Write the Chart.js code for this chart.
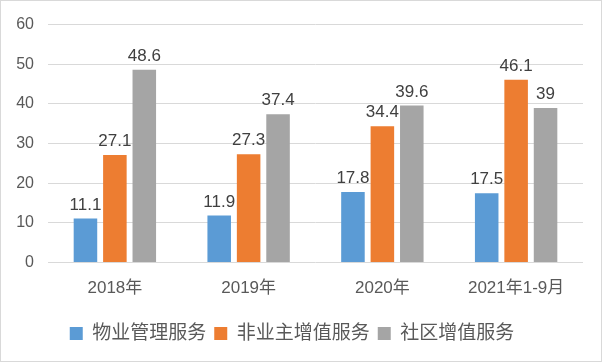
<!DOCTYPE html>
<html>
<head>
<meta charset="utf-8">
<script src="https://cdn.jsdelivr.net/npm/chart.js@4.4.0/dist/chart.umd.min.js"></script>
<style>
  html, body { margin: 0; padding: 0; background: #fff; }
  .frame { width: 600px; height: 360px; border: 1px solid #d9d9d9; position: relative; }
</style>
</head>
<body>
<div class="frame"><canvas id="chart" width="600" height="360"></canvas></div>
<script>
// chart data
const categories = ['2018年', '2019年', '2020年', '2021年1-9月'];
const propertyMgmt = [11.1, 11.9, 17.8, 17.5];      // 物业管理服务
const nonOwnerValue = [27.1, 27.3, 34.4, 46.1];     // 非业主增值服务
const communityValue = [48.6, 37.4, 39.6, 39];      // 社区增值服务
const yTicks = [0, 10, 20, 30, 40, 50, 60];

const FONT = "'Liberation Sans', 'Noto Sans CJK SC', sans-serif";

// draw the value above every bar
const barLabels = {
  id: 'barLabels',
  afterDatasetsDraw(chart) {
    const ctx = chart.ctx;
    ctx.save();
    ctx.font = '17px ' + FONT;
    ctx.fillStyle = '#404040';
    ctx.textAlign = 'center';
    ctx.textBaseline = 'bottom';
    chart.data.datasets.forEach((ds, i) => {
      chart.getDatasetMeta(i).data.forEach((bar, j) => {
        ctx.fillText(String(ds.data[j]), bar.x, bar.y - 5);
      });
    });
    ctx.restore();
  }
};

new Chart(document.getElementById('chart'), {
  type: 'bar',
  data: {
    labels: categories,
    datasets: [
      { label: '物业管理服务', data: propertyMgmt, backgroundColor: '#5b9bd5' },
      { label: '非业主增值服务', data: nonOwnerValue, backgroundColor: '#ed7d31' },
      { label: '社区增值服务', data: communityValue, backgroundColor: '#a5a5a5' }
    ]
  },
  options: {
    responsive: false,
    animation: false,
    layout: { padding: { left: 0, right: 18, top: 10, bottom: 8 } },
    datasets: { bar: { categoryPercentage: 0.66, barPercentage: 0.8 } },
    plugins: {
      tooltip: { enabled: false },
      legend: {
        position: 'bottom',
        labels: {
          font: { size: 19, family: FONT },
          color: '#595959',
          boxWidth: 13,
          boxHeight: 13,
          padding: 8
        }
      }
    },
    scales: {
      x: {
        grid: { display: false },
        border: { display: false },
        afterFit(scale) { scale.height += 9; },
        ticks: { font: { size: 17, family: FONT }, color: '#595959', padding: 8 }
      },
      y: {
        min: 0,
        max: 60,
        afterBuildTicks(scale) { scale.ticks = yTicks.map(v => ({ value: v })); },
        afterFit(scale) { scale.width = 47; },
        grid: { color: '#d9d9d9', drawTicks: false },
        border: { display: false },
        ticks: { font: { size: 16, family: FONT }, color: '#595959', padding: 14 }
      }
    }
  },
  plugins: [barLabels]
});
</script>
</body>
</html>
